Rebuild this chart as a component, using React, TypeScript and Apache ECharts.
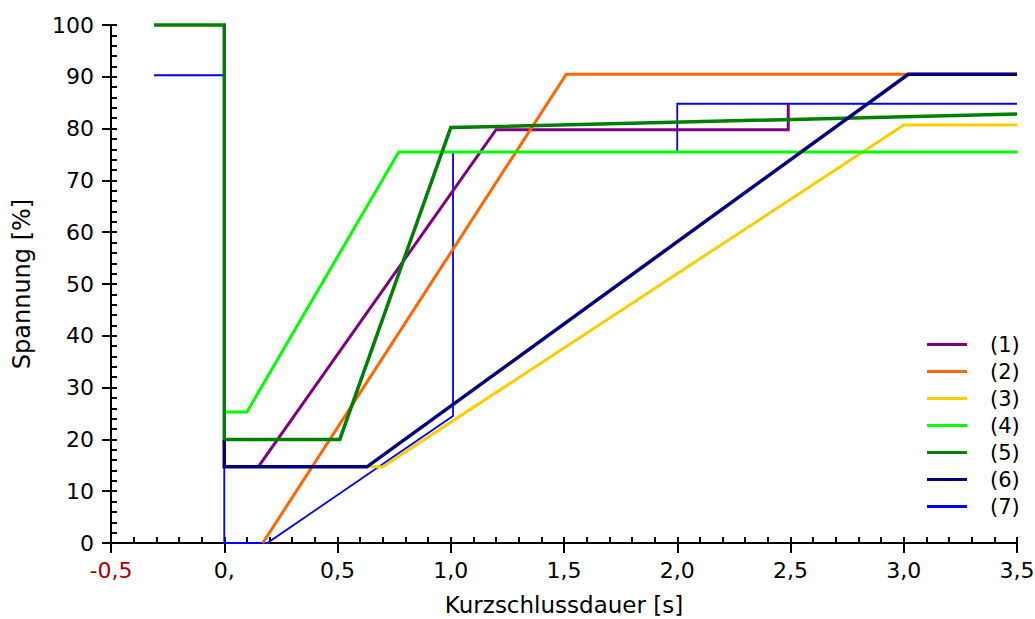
import React, { useEffect, useRef } from "react";
import * as echarts from "echarts";

const seriesNames = ["(1)", "(2)", "(3)", "(4)", "(5)", "(6)", "(7)"];
const seriesColors = ["#800080", "#ff6600", "#ffcc00", "#00ff00", "#008000", "#000080", "#0000ff"];
const seriesWidths = [3, 3, 3, 3, 3.5, 3.5, 1.8];

const s1 = [[0.15, 14.7], [1.2, 79.8], [2.49, 79.8], [2.49, 84.8]];
const s2 = [[0.17, 0], [1.51, 90.5], [3.5, 90.5]];
const s3 = [[0.64, 14.7], [0.7, 14.7], [3.0, 80.7], [3.5, 80.7]];
const s4 = [[0, 25.3], [0.1, 25.3], [0.77, 75.5], [3.5, 75.5]];
const s5 = [[-0.31, 100], [0, 100], [0, 20], [0.51, 20], [1.0, 80.2], [3.5, 82.8]];
const s6 = [[0, 19.9], [0, 14.7], [0.63, 14.7], [3.02, 90.5], [3.5, 90.5]];
const s7 = [[-0.31, 90.3], [0, 90.3], [0, 0], [0.19, 0], [1.01, 24.5], [1.01, 75.5], [2.0, 75.5], [2.0, 84.8], [3.5, 84.8]];
const seriesData = [s1, s2, s3, s4, s5, s6, s7];
// drawing order: blue first, then 1..6
const drawOrder = [6, 0, 1, 2, 3, 4, 5];

const xMin = -0.5, xMax = 3.5, xStep = 0.5;
const yMin = 0, yMax = 100, yStep = 10;

const FONT = "DejaVu Sans";

function xLabel(v: number): string {
  if (Math.abs(v + 0.5) < 1e-9) return "{r|-0,5}";
  if (Math.abs(v) < 1e-9) return "0,";
  return v.toFixed(1).replace(".", ",");
}

export default function App() {
  const ref = useRef<HTMLDivElement>(null);
  useEffect(() => {
    if (!ref.current) return;
    const chart = echarts.init(ref.current, null, { renderer: "svg" });
    const axisLineStyle = { color: "#000", width: 2 };
    const option: any = {
      animation: false,
      backgroundColor: "#fff",
      textStyle: { fontFamily: FONT },
      grid: { left: 111, right: 18, top: 25, bottom: 76, containLabel: false, outerBoundsMode: "none" },
      legend: {
        orient: "vertical",
        left: 927,
        top: 334,
        padding: 0,
        itemWidth: 40,
        itemHeight: 3,
        itemGap: 6,
        icon: "rect",
        data: seriesNames,
        textStyle: { fontFamily: FONT, fontSize: 21, lineHeight: 20, color: "#000", padding: [0, 0, 0, 18] },
      },
      xAxis: [
        {
          type: "value",
          position: "bottom",
          min: xMin, max: xMax, interval: xStep,
          name: "Kurzschlussdauer [s]",
          nameLocation: "middle",
          nameGap: 51,
          nameTextStyle: { fontFamily: FONT, fontSize: 23, lineHeight: 22, color: "#000" },
          axisLine: { onZero: false, lineStyle: axisLineStyle },
          axisTick: { inside: true, length: 6, lineStyle: axisLineStyle },
          minorTick: { show: true, splitNumber: 5, length: 6, lineStyle: axisLineStyle },
          splitLine: { show: false },
          axisLabel: {
            margin: 16,
            fontFamily: FONT, fontSize: 22, color: "#000",
            formatter: xLabel,
            rich: { r: { color: "#aa0000", fontFamily: FONT, fontSize: 22 } },
          },
        },
        {
          type: "value",
          position: "bottom",
          min: xMin, max: xMax, interval: xStep,
          axisLine: { show: false, onZero: false },
          axisTick: { inside: false, length: 10, lineStyle: axisLineStyle },
          axisLabel: { show: false },
          splitLine: { show: false },
        },
      ],
      yAxis: [
        {
          type: "value",
          position: "left",
          min: yMin, max: yMax, interval: yStep,
          name: "Spannung [%]",
          nameLocation: "middle",
          nameGap: 77,
          nameTextStyle: { fontFamily: FONT, fontSize: 24, color: "#000" },
          axisLine: { onZero: false, lineStyle: axisLineStyle },
          axisTick: { inside: true, length: 6, lineStyle: axisLineStyle },
          minorTick: { show: true, splitNumber: 5, length: 6, lineStyle: axisLineStyle },
          splitLine: { show: false },
          axisLabel: { margin: 17, fontFamily: FONT, fontSize: 22, color: "#000" },
        },
        {
          type: "value",
          position: "left",
          min: yMin, max: yMax, interval: yStep,
          axisLine: { show: false, onZero: false },
          axisTick: { inside: false, length: 9, lineStyle: axisLineStyle },
          axisLabel: { show: false },
          splitLine: { show: false },
        },
      ],
      series: drawOrder.map((i) => ({
        name: seriesNames[i],
        type: "line",
        xAxisIndex: 0,
        yAxisIndex: 0,
        data: seriesData[i],
        symbol: "none",
        clip: false,
        color: seriesColors[i],
        lineStyle: { color: seriesColors[i], width: seriesWidths[i], join: "miter" },
        itemStyle: { color: seriesColors[i] },
      })),
    };
    chart.setOption(option);
    return () => chart.dispose();
  }, []);
  return (
    <div
      ref={ref}
      style={{ position: "fixed", left: 0, top: 0, width: 1035, height: 619, background: "#fff" }}
    />
  );
}
